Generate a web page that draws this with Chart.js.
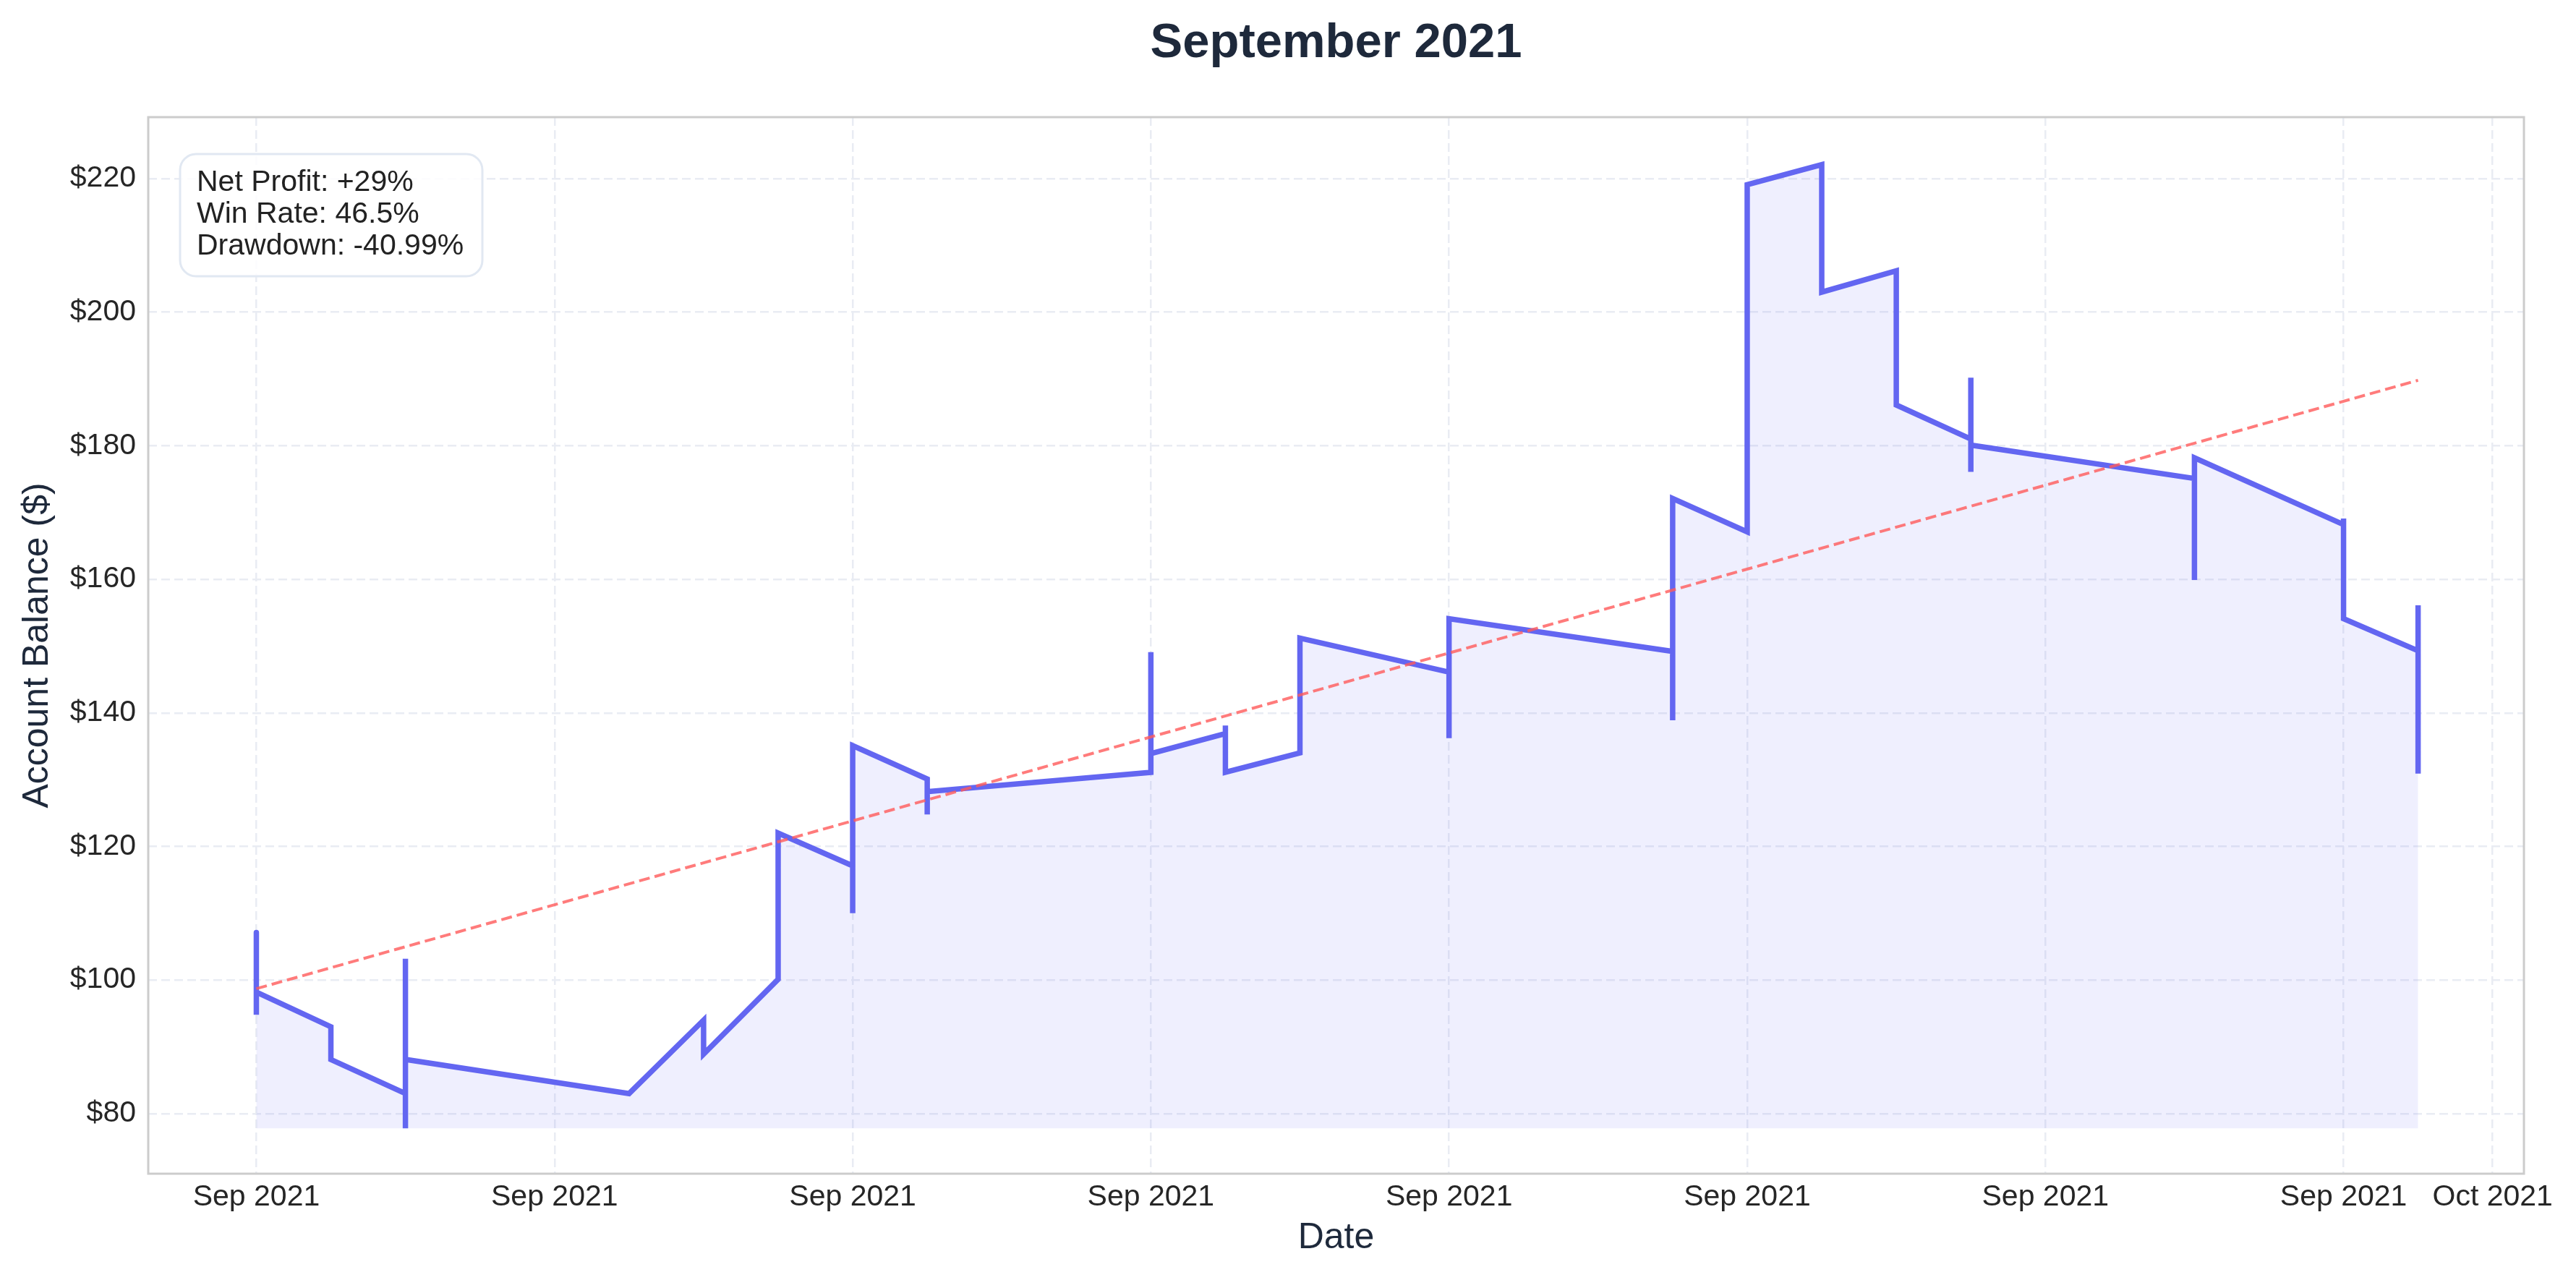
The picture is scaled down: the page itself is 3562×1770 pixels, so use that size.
<!DOCTYPE html>
<html>
<head>
<meta charset="utf-8">
<script src="https://cdn.jsdelivr.net/npm/chart.js@4.4.0/dist/chart.umd.min.js"></script>
<style>
  html, body { margin: 0; padding: 0; background: #ffffff; }
  #wrap { width: 3562px; height: 1770px; }
</style>
</head>
<body>
<div id="wrap"><canvas id="equityChart" width="3562" height="1770"></canvas></div>
<script>
// ---- data ----
const tradeDates = [
  '2021-09-01', '2021-09-01', '2021-09-01',
  '2021-09-02', '2021-09-02',
  '2021-09-03', '2021-09-03', '2021-09-03', '2021-09-03',
  '2021-09-06',
  '2021-09-07', '2021-09-07',
  '2021-09-08', '2021-09-08',
  '2021-09-09', '2021-09-09', '2021-09-09',
  '2021-09-10', '2021-09-10', '2021-09-10',
  '2021-09-13', '2021-09-13', '2021-09-13',
  '2021-09-14', '2021-09-14', '2021-09-14',
  '2021-09-15', '2021-09-15',
  '2021-09-17', '2021-09-17', '2021-09-17',
  '2021-09-20', '2021-09-20', '2021-09-20',
  '2021-09-21', '2021-09-21',
  '2021-09-22', '2021-09-22', '2021-09-22', '2021-09-22',
  '2021-09-23', '2021-09-23',
  '2021-09-24', '2021-09-24', '2021-09-24', '2021-09-24',
  '2021-09-27', '2021-09-27', '2021-09-27',
  '2021-09-29', '2021-09-29', '2021-09-29',
  '2021-09-30', '2021-09-30', '2021-09-30', '2021-09-30'
];
const balances = [
  107.1, 94.8, 98.2,
  93.0, 88.1,
  83.0, 103.2, 77.8, 88.1,
  83.0,
  94.0, 88.9,
  100.1, 122.0,
  117.1, 110.0, 135.1,
  130.1, 124.8, 128.2,
  131.1, 149.1, 133.9,
  136.9, 138.1, 131.1,
  134.0, 151.2,
  146.1, 136.2, 154.1,
  149.2, 138.9, 172.1,
  167.1, 219.1,
  222.1, 211.0, 215.0, 203.0,
  206.2, 186.1,
  181.0, 190.2, 176.1, 180.1,
  175.1, 159.9, 178.2,
  168.2, 169.1, 154.1,
  149.3, 156.1, 130.9, 138.2
];
const trendDates = ['2021-09-01', '2021-09-30'];
const trendValues = [98.7, 189.8];

const xTickDates = ['2021-09-01', '2021-09-05', '2021-09-09', '2021-09-13', '2021-09-17',
                    '2021-09-21', '2021-09-25', '2021-09-29', '2021-10-01'];
const xTickLabels = ['Sep 2021', 'Sep 2021', 'Sep 2021', 'Sep 2021', 'Sep 2021',
                     'Sep 2021', 'Sep 2021', 'Sep 2021', 'Oct 2021'];
const yTickValues = [80, 100, 120, 140, 160, 180, 200, 220];

const chartTitle = 'September 2021';
const statLines = ['Net Profit: +29%', 'Win Rate: 46.5%', 'Drawdown: -40.99%'];

// ---- helpers ----
const DAY0 = Date.parse('2021-09-01');
const toDay = s => (Date.parse(s) - DAY0) / 864e5;

const balancePoints = tradeDates.map((d, i) => ({ x: toDay(d), y: balances[i] }));
const trendPoints = trendDates.map((d, i) => ({ x: toDay(d), y: trendValues[i] }));
const xTickDays = xTickDates.map(toDay);

const FONT = "'Liberation Sans', Arial, Helvetica, sans-serif";
Chart.defaults.font.family = FONT;

// title, axes frame and stats box
const decorations = {
  id: 'decorations',
  afterDraw(chart) {
    const { ctx, chartArea: a } = chart;
    ctx.save();

    // frame
    ctx.strokeStyle = '#cccccc';
    ctx.lineWidth = 3;
    ctx.strokeRect(a.left, a.top, a.right - a.left, a.bottom - a.top);

    // title
    ctx.fillStyle = '#1e293b';
    ctx.font = 'bold 67px ' + FONT;
    ctx.textAlign = 'center';
    ctx.textBaseline = 'alphabetic';
    ctx.fillText(chartTitle, (a.left + a.right) / 2, 79);

    // stats box
    const bx = a.left + 44, by = a.top + 51, bw = 418, bh = 169;
    ctx.beginPath();
    ctx.roundRect(bx, by, bw, bh, 22);
    ctx.fillStyle = 'rgba(255,255,255,0.85)';
    ctx.fill();
    ctx.strokeStyle = '#e1e8f2';
    ctx.lineWidth = 3;
    ctx.stroke();

    ctx.fillStyle = '#222222';
    ctx.font = '41px ' + FONT;
    ctx.textAlign = 'left';
    statLines.forEach((t, i) => ctx.fillText(t, bx + 23, by + 51 + i * 44));
    ctx.restore();
  }
};

const ctx = document.getElementById('equityChart').getContext('2d');
const equityChart = new Chart(ctx, {
  type: 'line',
  data: {
    datasets: [
      {
        label: 'Balance',
        data: balancePoints,
        borderColor: '#6366f1',
        borderWidth: 7.5,
        borderCapStyle: 'round',
        borderJoinStyle: 'miter',
        backgroundColor: 'rgba(99,102,241,0.1)',
        fill: { value: Math.min(...balances) },
        pointRadius: 0,
        tension: 0,
        order: 1
      },
      {
        label: 'Trend',
        data: trendPoints,
        borderColor: 'rgba(255,90,90,0.8)',
        borderWidth: 4,
        borderDash: [15, 7],
        pointRadius: 0,
        fill: false,
        order: 0
      }
    ]
  },
  options: {
    responsive: false,
    devicePixelRatio: 1,
    animation: false,
    layout: { padding: { top: 162, right: 72, bottom: 0, left: 0 } },
    plugins: { legend: { display: false }, tooltip: { enabled: false }, title: { display: false } },
    scales: {
      x: {
        type: 'linear',
        min: -1.45,
        max: 30.42,
        afterBuildTicks: s => { s.ticks = xTickDays.map(v => ({ value: v })); },
        afterFit: s => { s.height = 147; },
        ticks: {
          autoSkip: false,
          maxRotation: 0,
          padding: 8,
          color: '#262626',
          font: { size: 41 },
          callback: (v, i) => xTickLabels[i]
        },
        grid: { color: '#e9ecf3', lineWidth: 2.5, drawTicks: false },
        border: { display: false, dash: [12, 6] },
        title: {
          display: true,
          text: 'Date',
          color: '#1e293b',
          font: { size: 50 },
          padding: { top: 0, bottom: 28 }
        }
      },
      y: {
        type: 'linear',
        min: 71.0,
        max: 229.2,
        afterBuildTicks: s => { s.ticks = yTickValues.map(v => ({ value: v })); },
        afterFit: s => { s.width = 205; },
        ticks: {
          padding: 17,
          color: '#262626',
          font: { size: 41 },
          callback: v => '$' + v
        },
        grid: { color: '#e9ecf3', lineWidth: 2.5, drawTicks: false },
        border: { display: false, dash: [12, 6] },
        title: {
          display: true,
          text: 'Account Balance ($)',
          color: '#1e293b',
          font: { size: 50 },
          padding: { top: 22, bottom: 0 }
        }
      }
    }
  },
  plugins: [decorations]
});
</script>
</body>
</html>
